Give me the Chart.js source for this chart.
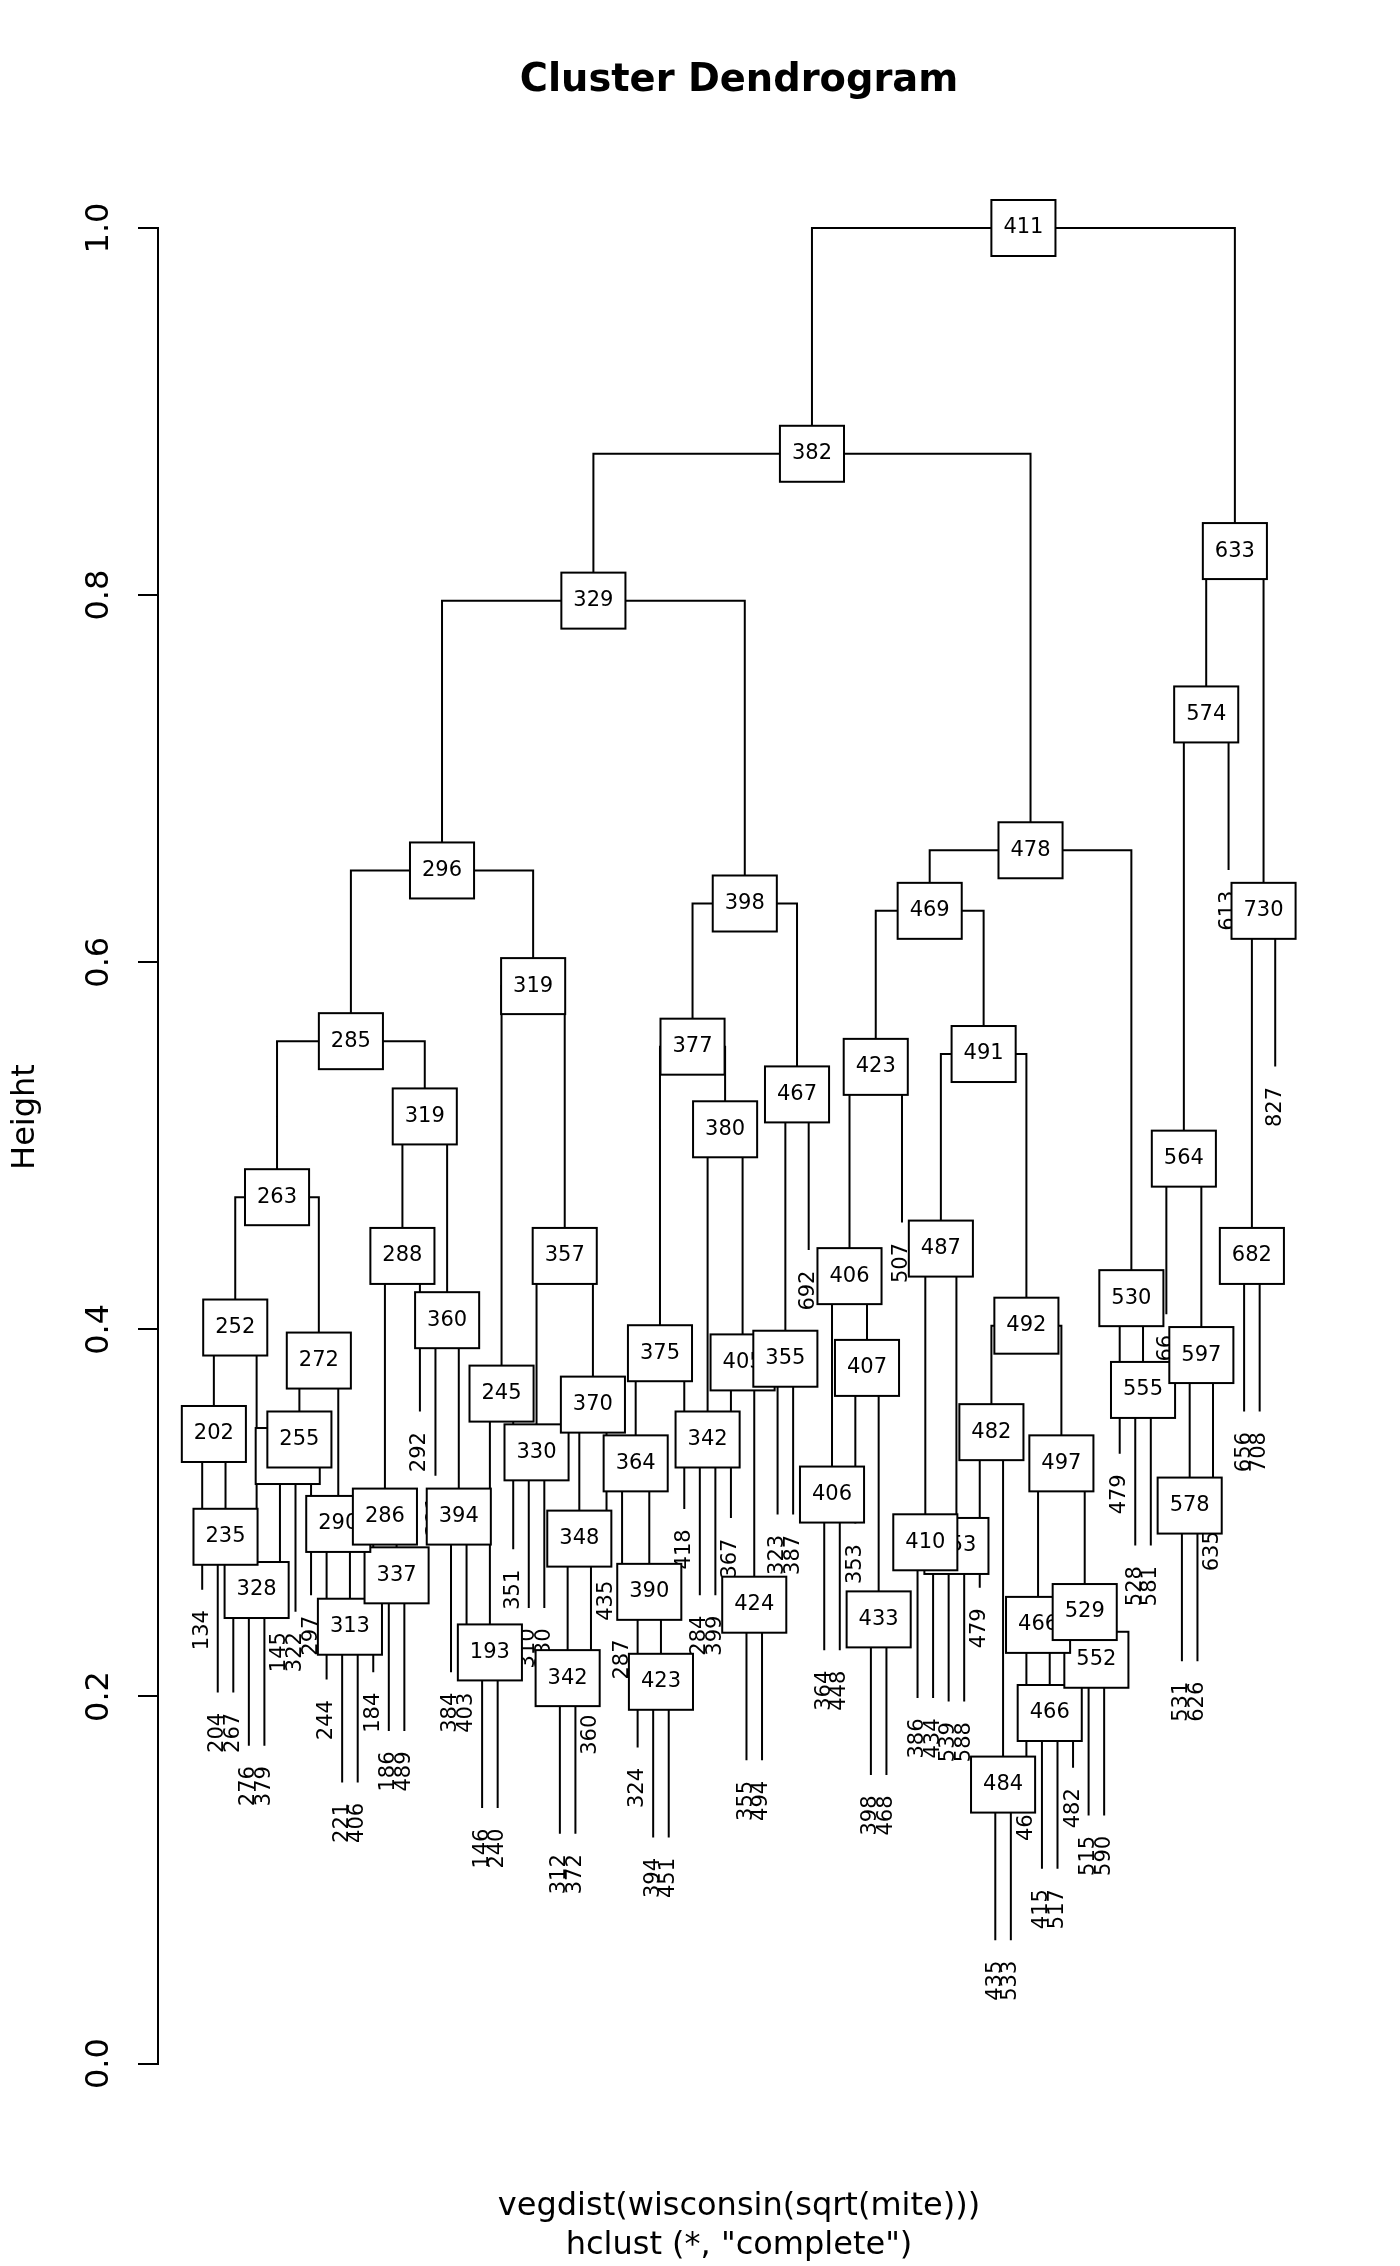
<!DOCTYPE html>
<html>
<head>
<meta charset="utf-8">
<title>Cluster Dendrogram</title>
<script src="https://cdn.jsdelivr.net/npm/chart.js@4.4.1/dist/chart.umd.min.js"></script>
<style>
  html, body { margin: 0; padding: 0; background: #fff; }
  #wrap { width: 1400px; height: 2266px; }
</style>
</head>
<body>
<div id="wrap"><canvas id="chart"></canvas></div>
<script>
// leaves, left to right as plotted
var leafLabels = ["134","204","267","276","379","145","322","297","244","221",
                  "406","184","186","489","292","321","384","403","146","240",
                  "351","310","330","312","372","360","435","287","324","394",
                  "451","418","284","399","367","355","494","323","387","692",
                  "364","448","353","398","468","507","386","434","539","588",
                  "479","435","533","465","415","517","482","515","590","479",
                  "528","581","566","531","626","635","613","656","708","827"];

// merges in order of height, R style: -n = leaf n, +k = merge k
var mergeLeft  = [-52,-55,-30,-24,-58,-19,-10,-54,-44,-57,
                  -36,-29, -4,-13,-49,-47,  4, -2, -9,-12,
                  -17,-64,-41,-28,  8, -6,-22, 26,-33, -1,
                  -51, 17,  6,-61,-43,-35, 28,-38, 22, 24,
                   30, 31,-16,-60, 23, 20, 27,-68, 16, 41,
                  -63, 29, 46, 38, 45, 49, 40, 50, 33, 55,
                   48, 57, 58, 60, 51, 63, 65, 66, 68];
var mergeRight = [-53,-56,-31,-25,-59,-20,-11,  2,-45,  5,
                  -37,  3, -5,-14,-50,-48,-26, -3,  7, 14,
                  -18,-65,-42, 12, 10, -7,-23, -8,-34, 18,
                    1,-27,-21,-62,  9, 11, 19,-39,-66,-32,
                   13, 25, 21, 34, 35,-15, 32,-69, 15, 37,
                   39, 36, 43,-40,-46, 42, 52, 53, 47, 56,
                  -70, 54, 59, 44,-67, 62, 61, 64, 67];
var mergeHeight = [0.152,0.191,0.208,0.210,0.220,0.224,0.238,0.239,0.242,0.246,
                   0.250,0.257,0.258,0.266,0.282,0.284,0.286,0.287,0.294,0.298,
                   0.298,0.304,0.310,0.327,0.327,0.331,0.333,0.340,0.340,0.343,
                   0.344,0.359,0.365,0.367,0.379,0.382,0.383,0.384,0.386,0.387,
                   0.401,0.402,0.405,0.417,0.429,0.440,0.440,0.440,0.444,0.472,
                   0.493,0.509,0.516,0.528,0.543,0.550,0.554,0.557,0.587,0.628,
                   0.628,0.632,0.650,0.661,0.735,0.797,0.824,0.877,1.000];
var nodeLabels = ["484","466","423","342","552","193","313","466","433","529",
                  "424","390","328","337","453","410","348","235","290","286",
                  "394","578","406","364","497","318","330","255","342","202",
                  "482","370","245","555","407","405","272","355","597","375",
                  "252","492","360","530","406","288","357","682","487","263",
                  "564","380","319","467","423","491","377","285","319","469",
                  "730","398","296","478","574","329","633","382","411"];

var yTicks = [0, 0.2, 0.4, 0.6, 0.8, 1.0];
var hang = 0.1;

var titleText = "Cluster Dendrogram";
var xlabText = "vegdist(wisconsin(sqrt(mite)))";
var subText = 'hclust (*, "complete")';
var ylabText = "Height";

Chart.defaults.font.family = "'DejaVu Sans', sans-serif";
Chart.defaults.color = '#000';

//--------------------------------------------------------------------
// * build the segments of every merge
//--------------------------------------------------------------------
var hangH = hang * (Math.max.apply(null, mergeHeight) - Math.min.apply(null, mergeHeight));
var nodeX = [];
var leafEnd = [];

function childX(c) { return c < 0 ? (-c - 1) : nodeX[c - 1]; }
function childY(c, h) { return c < 0 ? h - hangH : mergeHeight[c - 1]; }

var datasets = [];
for (var k = 0; k < mergeHeight.length; k++) {
    var l = mergeLeft[k], r = mergeRight[k], h = mergeHeight[k];
    var xl = childX(l), xr = childX(r);
    nodeX.push((xl + xr) / 2);
    if (l < 0) leafEnd[-l - 1] = h - hangH;
    if (r < 0) leafEnd[-r - 1] = h - hangH;
    datasets.push({
        data: [{x: xl, y: childY(l, h)}, {x: xl, y: h}, {x: xr, y: h}, {x: xr, y: childY(r, h)}],
        showLine: true,
        borderColor: '#000',
        borderWidth: 2,
        pointRadius: 0,
        fill: false,
        tension: 0,
        clip: false
    });
}

//--------------------------------------------------------------------
// * leaf labels, node boxes and the y label
//--------------------------------------------------------------------
var dendroLabels = {
    id: 'dendroLabels',
    afterDatasetsDraw: function(chart) {
        var ctx = chart.ctx, xs = chart.scales.x, ys = chart.scales.y;
        ctx.save();
        ctx.font = "21px 'DejaVu Sans'";
        ctx.fillStyle = '#000';
        var off = ctx.measureText('m').width;

        ctx.textAlign = 'right';
        ctx.textBaseline = 'middle';
        leafLabels.forEach(function(lab, i) {
            ctx.save();
            ctx.translate(xs.getPixelForValue(i), ys.getPixelForValue(leafEnd[i]) + off);
            ctx.rotate(-Math.PI / 2);
            ctx.fillText(lab, 0, 0);
            ctx.restore();
        });

        ctx.textAlign = 'center';
        ctx.lineWidth = 2;
        ctx.strokeStyle = '#000';
        nodeLabels.forEach(function(lab, k) {
            var px = xs.getPixelForValue(nodeX[k]);
            var py = ys.getPixelForValue(mergeHeight[k]);
            var w = ctx.measureText(lab).width + 24, bh = 56;
            ctx.fillStyle = '#fff';
            ctx.fillRect(px - w / 2, py - bh / 2, w, bh);
            ctx.strokeRect(px - w / 2, py - bh / 2, w, bh);
            ctx.fillStyle = '#000';
            ctx.fillText(lab, px, py);
        });

        ctx.font = "32px 'DejaVu Sans'";
        ctx.translate(26, 1117);
        ctx.rotate(-Math.PI / 2);
        ctx.fillText(ylabText, 0, 0);
        ctx.restore();
    }
};

var ctx = document.getElementById('chart').getContext('2d');
var chart = new Chart(ctx, {
    type: 'scatter',
    data: { datasets: datasets },
    options: {
        responsive: true,
        maintainAspectRatio: false,
        devicePixelRatio: 1,
        animation: false,
        events: [],
        layout: { padding: { left: 0, right: 80, top: 0, bottom: 0 } },
        scales: {
            x: { type: 'linear', display: false, min: -2.842, max: 71.88 },
            y: {
                type: 'linear', min: 0, max: 1,
                afterFit: function(s) { s.width = 158; },
                afterBuildTicks: function(s) { s.ticks = yTicks.map(function(v) { return {value: v}; }); },
                ticks: {
                    autoSkip: false,
                    font: { size: 32 },
                    color: '#000',
                    minRotation: 90,
                    maxRotation: 90,
                    crossAlign: 'center',
                    padding: 13,
                    callback: function(v) { return Number(v).toFixed(1); }
                },
                grid: { drawOnChartArea: false, drawTicks: true, tickLength: 20, color: '#000', lineWidth: 2 },
                border: { display: true, color: '#000', width: 2 }
            }
        },
        plugins: {
            legend: { display: false },
            tooltip: { enabled: false },
            title: {
                display: true, text: titleText, fullSize: false,
                font: { size: 38.4, weight: 'bold' }, color: '#000',
                padding: { top: 58, bottom: 123.92 }
            },
            subtitle: {
                display: true, position: 'bottom', text: [xlabText, subText], fullSize: false,
                font: { size: 32, weight: 'normal' }, color: '#000',
                padding: { top: 124, bottom: 1.6 }
            }
        }
    },
    plugins: [dendroLabels]
});
</script>
</body>
</html>
